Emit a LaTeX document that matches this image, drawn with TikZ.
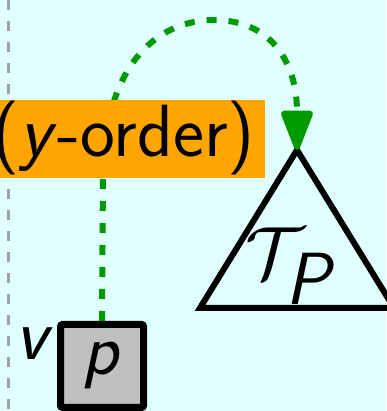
\RequirePackage{fix-cm}
\documentclass[tikz,border=0pt]{standalone}
\usetikzlibrary{arrows.meta}
\definecolor{bgcyan}{RGB}{224,255,255}
\definecolor{lblorange}{RGB}{255,165,0}
\definecolor{arcgreen}{RGB}{0,153,0}
\definecolor{boxgray}{RGB}{192,192,192}
\tikzset{
  bigfont/.style={font=\fontsize{74}{80}\selectfont\sffamily},
  pointbox/.style={draw, line width=7pt, fill=boxgray, rounded corners=2pt,
    minimum size=83pt, inner sep=0pt, bigfont},
  ordertag/.style={fill=lblorange, minimum height=78pt, inner xsep=10pt,
    inner ysep=0pt, text height=52pt, text depth=17pt, bigfont},
  linkarc/.style={arcgreen, line width=6pt, dash pattern=on 10pt off 12pt,
    -{Triangle[width=33pt,length=45pt,round]}},
}
\begin{document}
\begin{tikzpicture}[x=1pt, y=1pt]
    % Background and frame
    \fill[bgcyan] (0,0) rectangle (386,411);
    \useasboundingbox (0,0) rectangle (386,411);
    \draw[black!37, line width=3pt, dash pattern=on 10pt off 11pt] (8,411) -- (8,0);

    % Subtree T_P
    \coordinate (apex) at (297,261);
    \draw[line width=6pt, line join=miter] (apex) -- (394,103) -- (200,103) -- cycle;
    \node[bigfont] (tree) at (291,145) {$\mathcal{T}_{\textsf{\textit{P}}}$};

    % Point p with label v
    \node[pointbox] (p) at (102,45) {\textit{p}};
    \node[bigfont, anchor=east, inner sep=4pt] (v) at (p.north west) [yshift=-23pt] {\textit{v}};

    % Link from p up to the subtree
    \draw[linkarc] (p.north) -- (103,240)
        .. controls (106,350) and (160,391) .. (214,391)
        .. controls (270,391) and (297,350) .. (apex);

    % Order label
    \node[ordertag, anchor=east] (order) at (265,272) {(\textit{y}-order)};
\end{tikzpicture}
\end{document}
